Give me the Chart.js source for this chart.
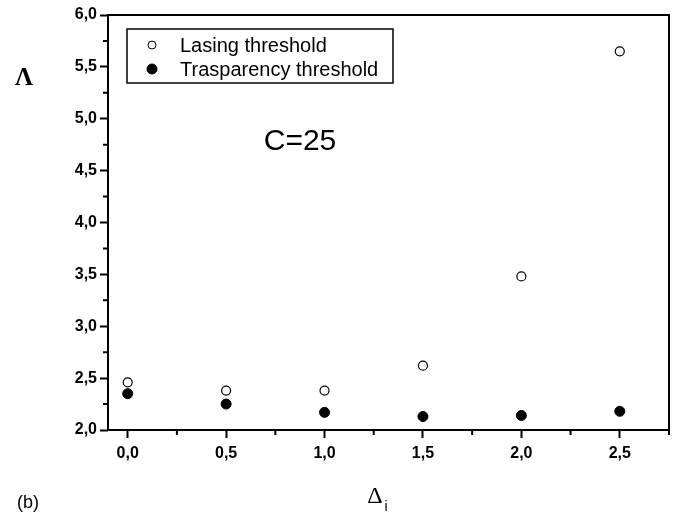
<!DOCTYPE html>
<html>
<head>
<meta charset="utf-8">
<script src="https://cdn.jsdelivr.net/npm/chart.js@4.4.1/dist/chart.umd.min.js"></script>
<style>
  html, body { margin: 0; padding: 0; background: #fff; }
  #wrap { width: 680px; height: 520px; position: relative; }
</style>
</head>
<body>
<div id="wrap"><canvas id="chart"></canvas></div>
<script>
// detuning values (x) and the two thresholds
const detuning = [0, 0.5, 1.0, 1.5, 2.0, 2.5];
const lasingThreshold = [2.46, 2.38, 2.38, 2.62, 3.48, 5.65];
const transparencyThreshold = [2.35, 2.25, 2.17, 2.13, 2.14, 2.18];
const seriesNames = ['Lasing threshold', 'Trasparency threshold'];

const toPoints = ys => detuning.map((x, i) => ({ x: x, y: ys[i] }));
const commaLabel = v => v.toFixed(1).replace('.', ',');
const tickFont = { family: 'Liberation Sans, Arial, sans-serif', size: 16, weight: 'bold' };

// frame, minor ticks, legend box and free text
const extras = {
  id: 'extras',
  afterDraw(chart) {
    const ctx = chart.ctx;
    const a = chart.chartArea;
    const xs = chart.scales.x, ys = chart.scales.y;
    ctx.save();
    ctx.strokeStyle = '#000';
    ctx.lineWidth = 2;
    ctx.strokeRect(a.left, a.top, a.right - a.left, a.bottom - a.top);

    // minor ticks
    ctx.beginPath();
    for (let v = 0.25; v <= 2.75; v += 0.5) {
      const px = xs.getPixelForValue(v);
      ctx.moveTo(px, a.bottom); ctx.lineTo(px, a.bottom + 5);
    }
    for (let v = 2.25; v < 6; v += 0.5) {
      const py = ys.getPixelForValue(v);
      ctx.moveTo(a.left, py); ctx.lineTo(a.left - 5, py);
    }
    ctx.stroke();

    // legend
    const lx = a.left + 19, ly = a.top + 14;
    ctx.lineWidth = 1.5;
    ctx.strokeRect(lx, ly, 266, 54);
    ctx.font = '20px "Liberation Sans", Arial, sans-serif';
    ctx.textBaseline = 'middle';
    ctx.textAlign = 'left';
    chart.data.datasets.forEach((ds, i) => {
      const cy = ly + 16 + i * 24;
      ctx.fillStyle = ds.backgroundColor;
      ctx.strokeStyle = ds.borderColor;
      ctx.lineWidth = 1;
      Chart.helpers.drawPoint(ctx, { pointStyle: 'circle', radius: 4 + i, borderWidth: 1, rotation: 0 }, lx + 25, cy);
      ctx.fillStyle = '#000';
      ctx.fillText(ds.label, lx + 53, cy + 1);
    });

    // annotation and axis symbols
    ctx.fillStyle = '#000';
    ctx.textAlign = 'center';
    ctx.font = '30px "Liberation Sans", Arial, sans-serif';
    ctx.fillText('C=25', 300, 142);
    ctx.font = 'bold 25px "Liberation Serif", "Times New Roman", serif';
    ctx.fillText('\u039B', 24, 79);
    ctx.font = '24px "Liberation Serif", "Times New Roman", serif';
    ctx.fillText('\u0394', 375, 497);
    ctx.font = '14px "Liberation Sans", Arial, sans-serif';
    ctx.fillText('i', 386, 507);
    ctx.font = '18px "Liberation Sans", Arial, sans-serif';
    ctx.fillText('(b)', 28, 503);
    ctx.restore();
  }
};

new Chart(document.getElementById('chart'), {
  type: 'scatter',
  data: {
    datasets: [
      {
        label: seriesNames[0],
        data: toPoints(lasingThreshold),
        backgroundColor: '#ffffff',
        borderColor: '#000000',
        borderWidth: 1.2,
        pointRadius: 4.5,
        pointStyle: 'circle',
      },
      {
        label: seriesNames[1],
        data: toPoints(transparencyThreshold),
        backgroundColor: '#000000',
        borderColor: '#000000',
        borderWidth: 1,
        pointRadius: 5,
        pointStyle: 'circle',
      },
    ],
  },
  options: {
    responsive: true,
    maintainAspectRatio: false,
    animation: false,
    layout: { padding: { top: 15, right: 11, left: 0, bottom: 0 } },
    plugins: {
      legend: { display: false },
      tooltip: { enabled: false },
    },
    scales: {
      x: {
        type: 'linear',
        min: -0.1,
        max: 2.75,
        afterFit: s => { s.height = 90; },
        border: { display: false },
        grid: { drawOnChartArea: false, tickLength: 8, tickColor: '#000', tickWidth: 2 },
        ticks: {
          stepSize: 0.5,
          includeBounds: false,
          color: '#000',
          font: tickFont,
          padding: 6,
          maxRotation: 0,
          callback: commaLabel,
        },
      },
      y: {
        type: 'linear',
        min: 2,
        max: 6,
        afterFit: s => { s.width = 108; },
        border: { display: false },
        grid: { drawOnChartArea: false, tickLength: 8, tickColor: '#000', tickWidth: 2 },
        ticks: {
          stepSize: 0.5,
          color: '#000',
          font: tickFont,
          padding: 3,
          callback: commaLabel,
        },
      },
    },
  },
  plugins: [extras],
});
</script>
</body>
</html>
